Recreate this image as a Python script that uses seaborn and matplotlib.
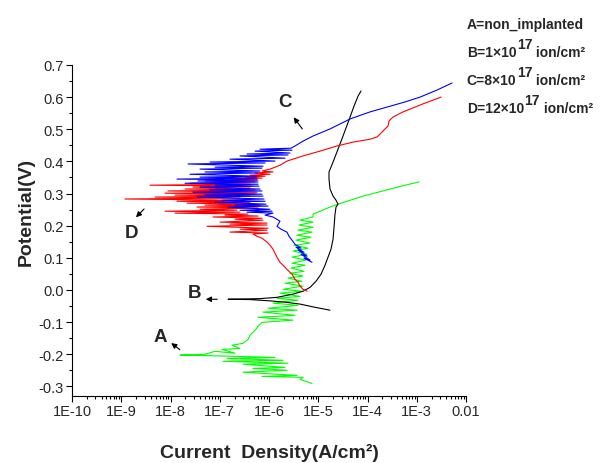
import numpy as np
import pandas as pd
import matplotlib
matplotlib.use("Agg")
import matplotlib.pyplot as plt
import seaborn as sns
from matplotlib.ticker import LogLocator, MultipleLocator, NullFormatter

# polarization curves: log10 of current density (A/cm2) and potential (V)
# A = non implanted (green)
a_logj = [-5.127, -5.371, -5.310, -6.142, -5.431, -6.528, -5.634, -6.325, -5.675, -6.528,
          -5.614, -6.934, -5.716, -6.853, -5.878, -7.604, -7.807, -7.299, -7.096, -6.690,
          -6.954, -6.589, -6.751, -6.528, -6.426, -6.386, -6.325, -6.264, -6.223, -6.142,
          -5.513, -6.223, -5.472, -6.122, -5.431, -6.020, -5.411, -5.919, -5.411, -5.837,
          -5.371, -5.777, -5.330, -5.716, -5.310, -5.675, -5.330, -5.614, -5.310, -5.574,
          -5.289, -5.553, -5.269, -5.533, -5.249, -5.533, -5.228, -5.513, -5.208, -5.492,
          -5.167, -5.452, -5.147, -5.431, -5.127, -5.411, -5.106, -5.391, -5.106, -5.371,
          -5.106, -5.106, -4.964, -4.761, -4.599, -4.355, -4.091, -3.787, -3.543, -3.238,
          -2.954]
a_pot = [-0.291, -0.278, -0.272, -0.269, -0.266, -0.256, -0.250, -0.244, -0.241, -0.231,
         -0.228, -0.222, -0.219, -0.213, -0.210, -0.203, -0.203, -0.200, -0.191, -0.197,
         -0.185, -0.182, -0.172, -0.166, -0.154, -0.141, -0.132, -0.122, -0.113, -0.101,
         -0.094, -0.085, -0.079, -0.069, -0.063, -0.057, -0.048, -0.041, -0.032, -0.026,
         -0.020, -0.010, -0.004, 0.002, 0.012, 0.021, 0.027, 0.037, 0.043, 0.052,
         0.058, 0.068, 0.077, 0.083, 0.093, 0.102, 0.111, 0.121, 0.130, 0.139,
         0.146, 0.155, 0.164, 0.170, 0.180, 0.186, 0.195, 0.202, 0.211, 0.217,
         0.227, 0.236, 0.245, 0.258, 0.267, 0.279, 0.292, 0.304, 0.314, 0.326,
         0.336]

# B = 1e17 ion/cm2 (black)
b_logj = [-4.761, -5.066, -5.371, -5.675, -5.980, -6.386, -6.832, -6.487, -6.183, -5.837,
          -5.513, -5.310, -5.167, -5.046, -4.944, -4.863, -4.802, -4.741, -4.700, -4.680,
          -4.660, -4.639, -4.599, -4.639, -4.700, -4.761, -4.782, -4.782, -4.700, -4.599,
          -4.497, -4.376, -4.274, -4.193, -4.132]
b_pot = [-0.063, -0.054, -0.044, -0.038, -0.034, -0.030, -0.029, -0.028, -0.027, -0.023,
         -0.013, -0.004, 0.008, 0.027, 0.049, 0.077, 0.102, 0.127, 0.158, 0.195,
         0.236, 0.258, 0.267, 0.279, 0.292, 0.314, 0.345, 0.367, 0.398, 0.438,
         0.479, 0.529, 0.572, 0.603, 0.619]

# C = 8e17 ion/cm2 (blue)
c_logj = [-5.127, -5.289, -5.167, -5.350, -5.228, -5.411, -5.289, -5.452, -5.350, -5.472,
          -5.533, -5.594, -5.635, -5.756, -5.838, -5.777, -5.919, -6.081, -5.919,
          -6.447, -5.939, -6.589, -5.980, -6.832, -6.020, -6.690, -6.061, -7.096, -6.081,
          -6.954, -6.101, -7.462, -6.122, -7.299, -6.142, -7.543, -6.142, -7.198, -6.183,
          -7.401, -6.203, -7.096, -6.223, -7.706, -6.223, -7.442, -6.244, -7.868, -6.244,
          -7.401, -6.244, -7.604, -6.223, -7.299, -6.183, -7.401, -6.142, -7.096, -6.122,
          -7.645, -6.081, -7.198, -5.878, -6.792, -5.675, -6.589, -5.614, -6.447, -5.574,
          -6.284, -5.533, -6.183, -5.553, -5.472, -5.310, -5.106, -4.761, -4.355, -3.949,
          -3.604, -3.238, -2.934, -2.589, -2.284]
c_pot = [0.086, 0.099, 0.093, 0.111, 0.105, 0.124, 0.117, 0.133, 0.130, 0.142,
         0.155, 0.167, 0.180, 0.189, 0.198, 0.214, 0.227, 0.233, 0.239,
         0.242, 0.245, 0.248, 0.251, 0.258, 0.261, 0.264, 0.267, 0.273, 0.276,
         0.279, 0.283, 0.289, 0.292, 0.295, 0.298, 0.304, 0.308, 0.311, 0.314,
         0.320, 0.323, 0.326, 0.329, 0.332, 0.336, 0.339, 0.342, 0.345, 0.348,
         0.351, 0.354, 0.360, 0.364, 0.367, 0.370, 0.376, 0.379, 0.382, 0.385,
         0.392, 0.395, 0.398, 0.401, 0.407, 0.410, 0.417, 0.420, 0.423, 0.426,
         0.432, 0.435, 0.438, 0.441, 0.448, 0.463, 0.479, 0.501, 0.532, 0.554,
         0.569, 0.585, 0.600, 0.622, 0.644]

# D = 12e17 ion/cm2 (red)
d_logj = [-5.228, -5.310, -5.371, -5.411, -5.472, -5.533, -5.635, -5.716, -5.777, -5.838,
          -5.878, -5.919, -5.980, -6.041, -6.142, -6.244, -6.325,
          -6.020, -6.792, -6.041, -6.589, -6.020, -7.259, -6.041, -6.792, -6.041, -6.995,
          -6.122, -6.690, -6.142, -7.137, -6.223, -6.893, -6.426, -7.909, -6.589, -8.112,
          -6.650, -7.401, -6.223, -7.462, -6.183, -7.299, -6.284, -7.665, -6.386, -7.868,
          -6.487, -8.924, -6.589, -8.315, -6.386, -7.909, -6.284, -8.112, -6.244, -8.051,
          -6.284, -7.706, -6.386, -7.543, -6.345, -8.416, -6.386, -7.604, -6.284, -7.299,
          -6.223, -6.792, -6.142, -6.487, -6.081, -6.386, -5.980, -6.284, -5.919, -6.142,
          -5.980,
          -5.777, -5.635, -5.310, -4.964, -4.619, -4.294, -3.949, -3.807, -3.746, -3.645,
          -3.584, -3.563, -3.482, -3.279, -2.873, -2.507]
d_pot = [-0.004, 0.002, 0.012, 0.024, 0.033, 0.049, 0.064, 0.077, 0.086, 0.102,
         0.114, 0.127, 0.139, 0.149, 0.161, 0.167, 0.174,
         0.177, 0.180, 0.186, 0.189, 0.192, 0.198, 0.202, 0.205, 0.208, 0.211,
         0.217, 0.220, 0.223, 0.227, 0.230, 0.233, 0.236, 0.239, 0.242, 0.245,
         0.248, 0.251, 0.255, 0.258, 0.261, 0.264, 0.267, 0.270, 0.273, 0.276,
         0.279, 0.283, 0.286, 0.289, 0.292, 0.295, 0.298, 0.301, 0.304, 0.308,
         0.311, 0.314, 0.317, 0.320, 0.323, 0.326, 0.329, 0.332, 0.336, 0.339,
         0.342, 0.345, 0.348, 0.351, 0.354, 0.357, 0.360, 0.364, 0.367, 0.370,
         0.376,
         0.388, 0.401, 0.417, 0.432, 0.448, 0.460, 0.469, 0.476, 0.485, 0.501,
         0.510, 0.526, 0.538, 0.554, 0.579, 0.600]

x_ticks = [1e-10, 1e-9, 1e-8, 1e-7, 1e-6, 1e-5, 1e-4, 1e-3, 1e-2]
x_labels = ["1E-10", "1E-9", "1E-8", "1E-7", "1E-6", "1E-5", "1E-4", "1E-3", "0.01"]
y_ticks = [-0.3, -0.2, -0.1, 0.0, 0.1, 0.2, 0.3, 0.4, 0.5, 0.6, 0.7]

# legend block: text before the exponent, exponent, text after it
legend_head = ["A=non_implanted", "B=1×10", "C=8×10", "D=12×10"]
legend_exp = ["", "17", "17", "17"]
legend_tail = ["", " ion/cm²", " ion/cm²", " ion/cm²"]

# --- style ---
sns.set_style("ticks")
plt.rcParams["font.family"] = ["Liberation Sans", "DejaVu Sans"]

fig = plt.figure(figsize=(6, 4.64), dpi=100)
ax = fig.add_axes([0.12, 0.1444, 0.6567, 0.7134])

curves = [(a_logj, a_pot, "#00ff00"), (b_logj, b_pot, "black"),
          (d_logj, d_pot, "#ff0000"), (c_logj, c_pot, "#0000ff")]
for logj, pot, col in curves:
    df = pd.DataFrame({"j": 10.0 ** np.array(logj), "E": pot})
    sns.lineplot(data=df, x="j", y="E", sort=False, estimator=None,
                 color=col, lw=0.8, ax=ax)

ax.set_xscale("log")
ax.set_xlim(1e-10, 1e-2)
ax.set_ylim(-0.33, 0.7)
ax.set_xticks(x_ticks)
ax.set_xticklabels(x_labels)
ax.xaxis.set_minor_locator(LogLocator(base=10, subs=range(2, 10), numticks=20))
ax.xaxis.set_minor_formatter(NullFormatter())
ax.set_yticks(y_ticks)
ax.set_yticklabels([f"{v:.1f}" for v in y_ticks])
ax.yaxis.set_minor_locator(MultipleLocator(0.05))
ax.tick_params(which="major", direction="out", length=4, width=0.8, labelsize=10.5, pad=2, color="black")
ax.tick_params(which="minor", direction="out", length=2.2, width=0.8, color="black")
for s in ["left", "bottom"]:
    ax.spines[s].set_color("black")
    ax.spines[s].set_linewidth(0.8)
sns.despine(ax=ax)

ax.set_xlabel("Current  Density(A/cm²)", fontsize=14, fontweight="bold")
ax.set_ylabel("Potential(V)", fontsize=14, fontweight="bold")
ax.xaxis.set_label_coords(0.5, -0.17)
ax.yaxis.set_label_coords(-0.117, 0.56)
ax.xaxis.label.set_va("center")
ax.yaxis.label.set_va("center")

# curve labels with arrows
arrow = dict(arrowstyle="-|>", color="black", lw=0.8, mutation_scale=8)
ax.annotate("", xy=(10 ** -5.533, 0.544), xytext=(10 ** -5.289, 0.494), arrowprops=arrow)
ax.text(10 ** -5.675, 0.585, "C", fontsize=13.5, fontweight="bold", ha="center", va="center")
ax.annotate("", xy=(10 ** -8.741, 0.220), xytext=(10 ** -8.497, 0.258), arrowprops=arrow)
ax.text(10 ** -8.782, 0.180, "D", fontsize=13.5, fontweight="bold", ha="center", va="center")
ax.annotate("", xy=(10 ** -7.340, -0.029), xytext=(10 ** -6.995, -0.029), arrowprops=arrow)
ax.text(10 ** -7.503, -0.007, "B", fontsize=13.5, fontweight="bold", ha="center", va="center")
ax.annotate("", xy=(10 ** -8.030, -0.160), xytext=(10 ** -7.766, -0.191), arrowprops=arrow)
ax.text(10 ** -8.213, -0.144, "A", fontsize=13.5, fontweight="bold", ha="center", va="center")

# legend block, top right (Origin style: full size raised exponent)
for head, sup, tail, yb in zip(legend_head, legend_exp, legend_tail, [0.9375, 0.877, 0.817, 0.756]):
    t = fig.text(0.778, yb, head, fontsize=10, fontweight="bold", ha="left", va="baseline")
    if sup:
        s = ax.annotate(sup, xy=(1, 0), xycoords=t, xytext=(0.3, 6.0), textcoords="offset points",
                        fontsize=10, fontweight="bold", va="bottom", ha="left", annotation_clip=False)
        ax.annotate(tail, xy=(1, 0), xycoords=s, xytext=(0, -6.0), textcoords="offset points",
                    fontsize=10, fontweight="bold", va="bottom", ha="left", annotation_clip=False)

fig.savefig("out.png", dpi=100)
